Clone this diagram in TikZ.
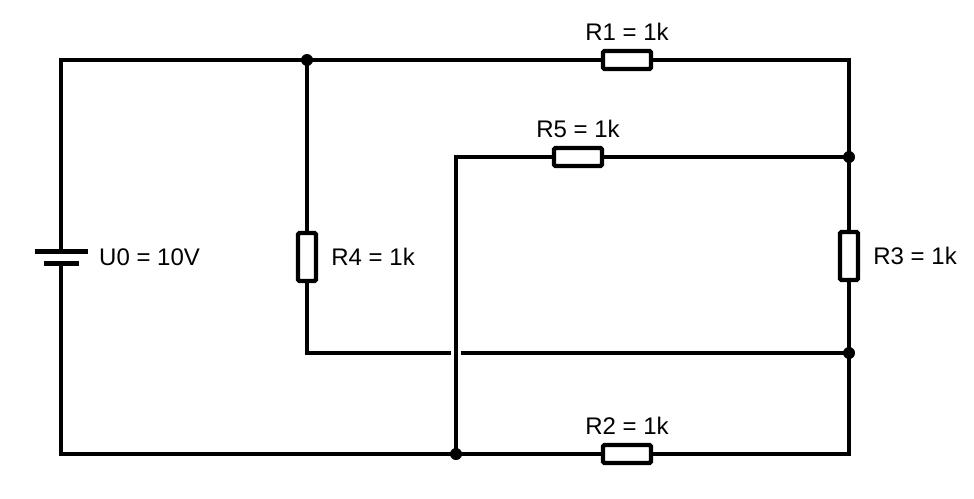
\documentclass[tikz,border=0pt]{standalone}
\usepackage{fontspec}
\setmainfont{Liberation Sans}
\begin{document}
\begin{tikzpicture}[x=1pt,y=-1pt,line width=4.4pt,
  res/.style={draw, fill=white, line width=4.4pt, inner sep=0pt, rounded corners=1.5pt},
  hres/.style={res, minimum width=48pt, minimum height=18pt},
  vres/.style={res, minimum width=18pt, minimum height=48pt},
  jdot/.style={circle, fill=black, draw=none, inner sep=0pt, minimum size=12pt},
  lbl/.style={inner sep=0pt, font=\fontsize{24}{28}\selectfont},
  plate/.style={line width=5pt}]
\useasboundingbox (0,0) rectangle (974,498);
% corners and junctions
\coordinate (TL) at (61,60);
\coordinate (TR) at (849,60);
\coordinate (BL) at (61,454);
\coordinate (BR) at (849,454);
\coordinate (J1) at (307,60);
\coordinate (J2) at (849,157);
\coordinate (J3) at (849,353);
\coordinate (J4) at (456,454);
\coordinate (C4) at (307,353);
\coordinate (C5) at (456,157);
\coordinate (X) at (456,353);
\coordinate (bp) at (61,251);
\coordinate (bm) at (61,263);
% resistors
\node[hres] (R1) at (627,60) {};
\node[hres] (R2) at (627,454) {};
\node[vres] (R3) at (849,256) {};
\node[vres] (R4) at (307,257) {};
\node[hres] (R5) at (578,157) {};
% wires
\draw (bp) -- (TL) -- (J1) -- (R1.west);
\draw (R1.east) -- (TR) -- (J2) -- (R3.north);
\draw (R3.south) -- (J3) -- (BR) -- (R2.east);
\draw (R2.west) -- (J4) -- (BL) -- (bm);
\draw (J1) -- (R4.north);
\draw (R4.south) -- (C4) -- ([xshift=-4.8pt]X);
\draw ([xshift=4.8pt]X) -- (J3);
\draw (J2) -- (R5.east);
\draw (R5.west) -- (C5) -- (J4);
% battery plates
\draw[plate] ([xshift=-26.5pt]bp) -- ([xshift=26.5pt]bp);
\draw[plate] ([xshift=-17.5pt]bm) -- ([xshift=17.5pt]bm);
% junction dots
\node[jdot] (d1) at (J1) {};
\node[jdot] (d2) at (J2) {};
\node[jdot] (d3) at (J3) {};
\node[jdot] (d4) at (J4) {};
% labels
\node[lbl, anchor=base] (l1) at ([yshift=8pt]R1.north) {R1 = 1k};
\node[lbl, anchor=base] (l5) at ([yshift=8pt]R5.north) {R5 = 1k};
\node[lbl, anchor=base] (l2) at ([yshift=8pt]R2.north) {R2 = 1k};
\node[lbl, anchor=west] (l3) at ([xshift=11pt]R3.east) {R3 = 1k};
\node[lbl, anchor=west] (l4) at ([xshift=11pt]R4.east) {R4 = 1k};
\node[lbl, anchor=west] (l0) at (97,257) {U0 = 10V};
\end{tikzpicture}
\end{document}
